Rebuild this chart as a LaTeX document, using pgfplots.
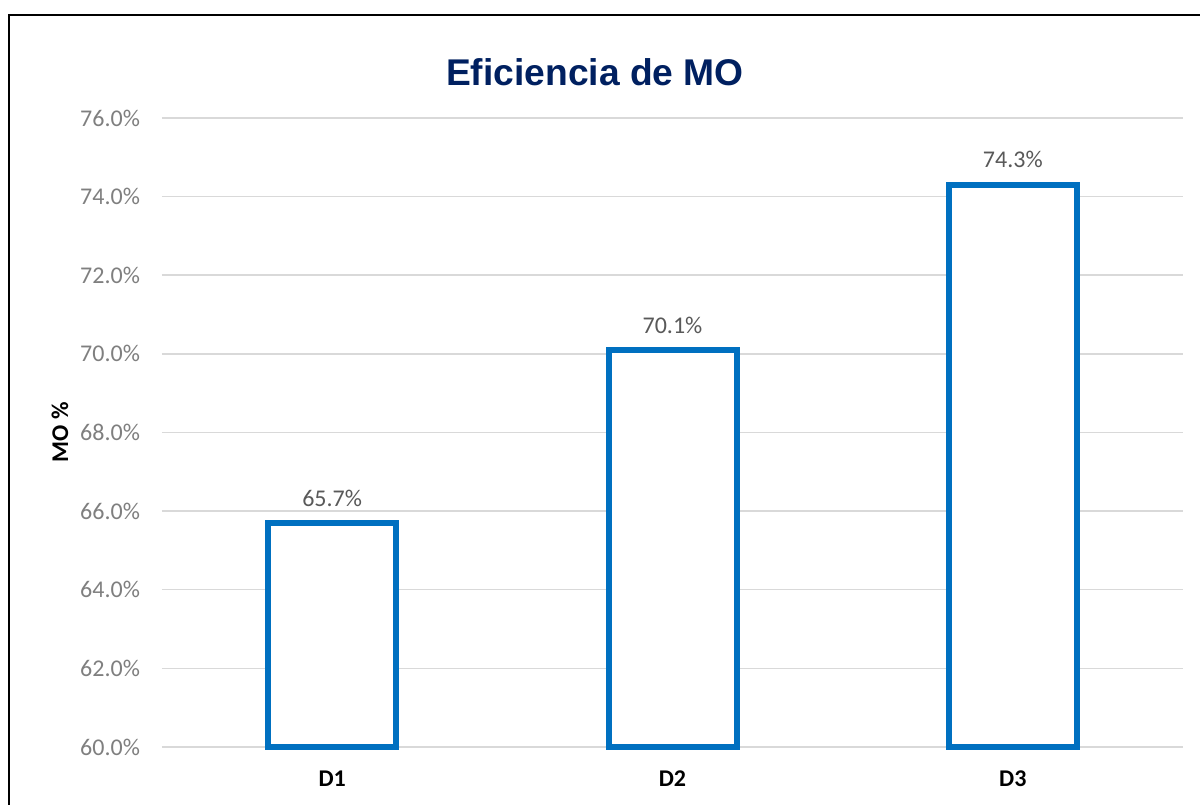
\documentclass[border=0pt]{standalone}
\usepackage{pgfplots}
\pgfplotsset{compat=1.18}
\usepackage{fontspec}
\setmainfont{Carlito}
\newfontfamily\arialfont{Liberation Sans}
\definecolor{barblue}{HTML}{0070C0}
\definecolor{titleblue}{HTML}{002060}
\definecolor{gridgray}{HTML}{D9D9D9}
\definecolor{tickgray}{HTML}{7F7F7F}
\definecolor{labgray}{HTML}{595959}
\begin{document}
\begin{tikzpicture}[x=1pt,y=1pt]
\begin{scope}[shift={(81,28.5)}]
\begin{axis}[
  width=510.5pt, height=314.5pt, scale only axis,
  xmin=-0.5, xmax=2.5, ymin=60, ymax=76,
  y coord trafo/.code={\pgfmathparse{#1-60}},
  y coord inv trafo/.code={\pgfmathparse{#1+60}},
  xtick={0,1,2}, xticklabels={D1,D2,D3},
  ytick={60,62,64,66,68,70,72,74,76},
  yticklabels={60.0\%,62.0\%,64.0\%,66.0\%,68.0\%,70.0\%,72.0\%,74.0\%,76.0\%},
  axis line style={draw=none},
  major tick length=0pt,
  ymajorgrids, grid style={gridgray, line width=0.75pt},
  yticklabel style={font=\fontsize{12}{14}\selectfont, text=tickgray, xshift=-7.5pt},
  xticklabel style={font=\fontsize{12}{14}\selectfont\bfseries, text=black, yshift=-8.5pt},
  ylabel={MO \%},
  ylabel style={font=\fontsize{12}{14}\selectfont\bfseries, at={(axis description cs:-0.0999,0.5)}, anchor=center},
  clip=false,
]
\addplot[ybar, bar width=64pt, bar shift=0pt, draw=barblue, line width=3pt, fill=white,
  point meta=explicit symbolic, nodes near coords,
  every node near coord/.append style={font=\fontsize{12}{14}\selectfont, text=labgray, anchor=south, yshift=3.5pt}]
  coordinates {(0,65.7) [65.7\%] (1,70.1) [70.1\%] (2,74.3) [74.3\%]};
\end{axis}
\end{scope}
\pgfresetboundingbox
\useasboundingbox (0,0) rectangle (600,402);
\node[font=\arialfont\bfseries\fontsize{18.6}{22}\selectfont, text=titleblue] at (297.5,366) {Eficiencia de MO};
\draw[line width=0.85pt] (4.5,-5) -- (4.5,394.5) -- (610,394.5);
\end{tikzpicture}
\end{document}
